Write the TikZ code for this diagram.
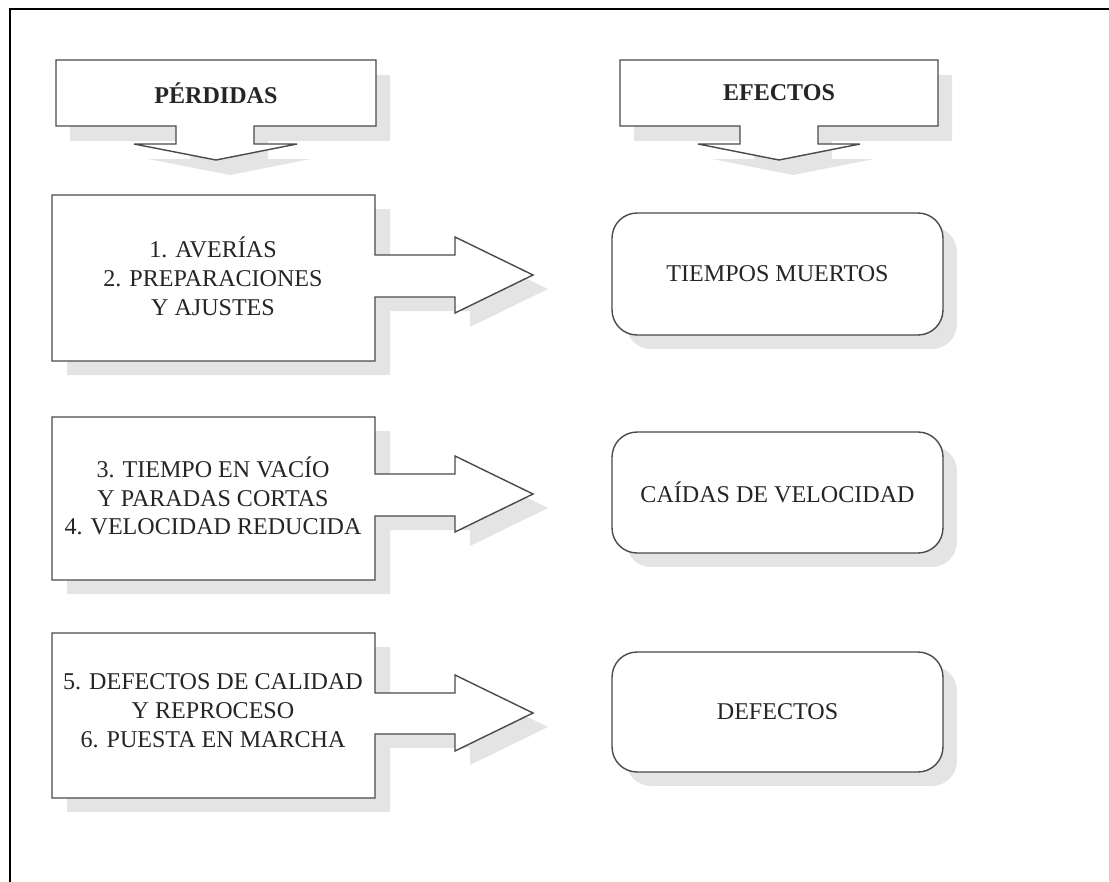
\documentclass[tikz,border=0pt]{standalone}
\usepackage{fontspec}
\setmainfont{Liberation Serif}
\usetikzlibrary{shadows}

\definecolor{linegray}{HTML}{4A4A4A}
\definecolor{shadowgray}{HTML}{E4E4E4}
\definecolor{textgray}{HTML}{252525}

% Outline of a loss box with its right-pointing arrow:
% top, neck top, head top, tip, head bottom, neck bottom, bottom
\newcommand\lossoutline[7]{(52,#1) -- (375,#1) -- (375,#2) -- (455,#2) -- (455,#3)
  -- (533,#4) -- (455,#5) -- (455,#6) -- (375,#6) -- (375,#7) -- (52,#7) -- cycle}
% Outline of a heading box with its down-pointing arrow:
% left, right, neck left, neck right, wing left, wing right, tip x
\newcommand\headoutline[7]{(#1,60) -- (#2,60) -- (#2,126) -- (#4,126) -- (#4,144)
  -- (#6,144) -- (#7,160) -- (#5,144) -- (#3,144) -- (#3,126) -- (#1,126) -- cycle}

\tikzset{
  shapeline/.style={draw=linegray, line width=0.8pt, fill=white, line join=miter},
  shadowfill/.style={fill=shadowgray},
  lbl/.style={align=center, text=textgray, inner sep=0pt,
    font=\fontsize{13.7}{16.4}\selectfont},
  headlbl/.style={lbl, font=\fontsize{13.7}{16.4}\selectfont\bfseries},
  effbox/.style={lbl, draw=linegray, line width=0.8pt, fill=white,
    rounded corners=0.5cm, minimum width=6.62cm,
    drop shadow={shadow xshift=0.28cm, shadow yshift=-0.28cm,
      fill=shadowgray, opacity=1}},
}

\begin{document}
\begin{tikzpicture}[x=0.02cm, y=-0.02cm]
  \useasboundingbox (0,0) rectangle (1109,882);

  % outer frame
  \draw[line width=1.2pt, black] (10,882) -- (10,9) -- (1109,9);

  % heading callouts
  \begin{scope}[shift={(14,15)}]
    \fill[shadowfill] \headoutline{56}{376}{176}{254}{134}{297}{216};
    \fill[shadowfill] \headoutline{620}{938}{740}{818}{698}{860}{779};
  \end{scope}
  \draw[shapeline] \headoutline{56}{376}{176}{254}{134}{297}{216};
  \draw[shapeline] \headoutline{620}{938}{740}{818}{698}{860}{779};
  \node[headlbl] (hdloss) at (216,93) {PÉRDIDAS};
  \node[headlbl] (hdeff) at (779,93) {EFECTOS};

  % loss boxes with arrows
  \begin{scope}[shift={(15,14)}]
    \fill[shadowfill] \lossoutline{195}{255}{237}{275}{313}{297}{361};
    \fill[shadowfill] \lossoutline{417}{474}{456}{494}{532}{516}{580};
    \fill[shadowfill] \lossoutline{633}{693}{675}{713}{751}{734}{798};
  \end{scope}
  \draw[shapeline] \lossoutline{195}{255}{237}{275}{313}{297}{361};
  \draw[shapeline] \lossoutline{417}{474}{456}{494}{532}{516}{580};
  \draw[shapeline] \lossoutline{633}{693}{675}{713}{751}{734}{798};

  \node[lbl] (loss1) at (213,276) {1. AVERÍAS\\2. PREPARACIONES\\Y AJUSTES};
  \node[lbl] (loss2) at (213,496) {3. TIEMPO EN VACÍO\\Y PARADAS CORTAS\\4. VELOCIDAD REDUCIDA};
  \node[lbl] (loss3) at (213,711) {5. DEFECTOS DE CALIDAD\\Y REPROCESO\\6. PUESTA EN MARCHA};

  % effect boxes
  \node[effbox, minimum height=2.44cm] (eff1) at (777.5,274) {TIEMPOS MUERTOS};
  \node[effbox, minimum height=2.42cm] (eff2) at (777.5,492.5) {CAÍDAS DE VELOCIDAD};
  \node[effbox, minimum height=2.40cm] (eff3) at (777.5,712) {DEFECTOS};
\end{tikzpicture}
\end{document}
